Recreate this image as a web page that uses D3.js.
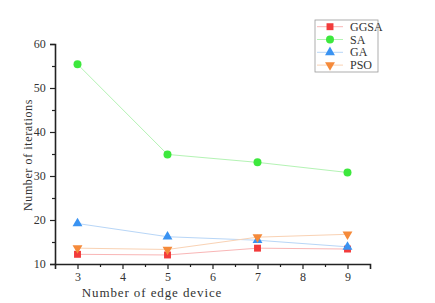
<!DOCTYPE html>
<html>
<head>
<meta charset="utf-8">
<script src="https://cdn.jsdelivr.net/npm/d3@7"></script>
<style>
  body { margin: 0; background: #fff; }
  text { font-family: "Liberation Serif", "DejaVu Serif", serif; fill: #333; }
</style>
</head>
<body>
<div id="chart"></div>
<script>
var devices = [3, 5, 7, 9];
var ggsa = [12.2, 12.05, 13.6, 13.4];
var sa = [55.4, 34.9, 33.1, 30.8];
var ga = [19.2, 16.2, 15.4, 13.9];
var pso = [13.6, 13.3, 16.1, 16.75];
var seriesNames = ["GGSA", "SA", "GA", "PSO"];
var xTicks = [3, 4, 5, 6, 7, 8, 9];
var yTicks = [10, 20, 30, 40, 50, 60];

var width = 435, height = 303;
var font = "'Liberation Serif', 'DejaVu Serif', serif";

var svg = d3.select("#chart").append("svg")
    .attr("width", width)
    .attr("height", height);

var xScale = d3.scaleLinear().domain([2.5, 9.5]).range([55, 370]);
var yScale = d3.scaleLinear().domain([10, 60]).range([264, 44]);

var series = [
  {name: "GGSA", values: ggsa, color: "#f23b3b", line: "#f9b6b6", symbol: d3.symbolSquare, size: 48, rot: 0},
  {name: "SA", values: sa, color: "#3de83d", line: "#b4f3b4", symbol: d3.symbolCircle, size: 50, rot: 0},
  {name: "GA", values: ga, color: "#3a93f2", line: "#b8d6f7", symbol: d3.symbolTriangle, size: 42, rot: 0},
  {name: "PSO", values: pso, color: "#f58a3a", line: "#f9d2b4", symbol: d3.symbolTriangle, size: 42, rot: 180}
];

// axes
var xAxis = svg.append("g")
    .attr("transform", "translate(0," + yScale(10) + ")")
    .call(d3.axisBottom(xScale).tickValues(xTicks).tickSize(5).tickFormat(d3.format("d")));
var yAxis = svg.append("g")
    .attr("transform", "translate(" + xScale(2.5) + ",0)")
    .call(d3.axisLeft(yScale).tickValues(yTicks).tickSize(5).tickFormat(d3.format("d")));

// minor ticks
svg.append("g")
    .attr("transform", "translate(0," + yScale(10) + ")")
    .call(d3.axisBottom(xScale).tickValues([3.5, 4.5, 5.5, 6.5, 7.5, 8.5]).tickSize(3).tickFormat(""))
    .select(".domain").remove();
svg.append("g")
    .attr("transform", "translate(" + xScale(2.5) + ",0)")
    .call(d3.axisLeft(yScale).tickValues([15, 25, 35, 45, 55]).tickSize(3).tickFormat(""))
    .select(".domain").remove();

svg.selectAll(".domain").attr("stroke", "#222").attr("stroke-width", 1.6);
svg.selectAll(".tick line").attr("stroke", "#222").attr("stroke-width", 1.2);
xAxis.attr("font-family", font);
yAxis.attr("font-family", font);
xAxis.selectAll("text").style("font-size", "12px").attr("fill", "#444");
yAxis.selectAll("text").style("font-size", "12px").attr("fill", "#444").attr("dx", "-0.1em");

// axis titles
svg.append("text")
    .attr("x", 152)
    .attr("y", 297)
    .attr("text-anchor", "middle")
    .style("font-size", "13px")
    .style("letter-spacing", "0.9px")
    .attr("fill", "#444")
    .text("Number of edge device");

svg.append("text")
    .attr("transform", "translate(32,155) rotate(-90)")
    .attr("text-anchor", "middle")
    .style("font-size", "12px")
    .style("letter-spacing", "0.6px")
    .attr("fill", "#444")
    .text("Number of iterations");

var line = d3.line()
    .x(function(d, i) { return xScale(devices[i]); })
    .y(function(d) { return yScale(d); });

series.forEach(function(s) {
  svg.append("path")
      .datum(s.values)
      .attr("d", line)
      .attr("fill", "none")
      .attr("stroke", s.line)
      .attr("stroke-width", 1);
});

series.forEach(function(s) {
  svg.selectAll(null).data(s.values).enter().append("path")
      .attr("d", d3.symbol().type(s.symbol).size(s.size))
      .attr("transform", function(d, i) {
        return "translate(" + xScale(devices[i]) + "," + yScale(d) + ") rotate(" + s.rot + ")";
      })
      .attr("fill", s.color);
});

// legend
var legend = svg.append("g").attr("transform", "translate(315,20)");
legend.append("rect")
    .attr("width", 63).attr("height", 52)
    .attr("fill", "#fff")
    .attr("stroke", "#999")
    .attr("stroke-width", 0.8);

series.forEach(function(s, i) {
  var y = 6.7 + i * 12.8;
  legend.append("line")
      .attr("x1", 2).attr("x2", 28).attr("y1", y).attr("y2", y)
      .attr("stroke", s.line).attr("stroke-width", 1);
  legend.append("path")
      .attr("d", d3.symbol().type(s.symbol).size(s.size))
      .attr("transform", "translate(15," + y + ") rotate(" + s.rot + ")")
      .attr("fill", s.color);
  legend.append("text")
      .attr("x", 35).attr("y", y + 4)
      .style("font-size", "12px")
      .attr("fill", "#444")
      .text(seriesNames[i]);
});
</script>
</body>
</html>
